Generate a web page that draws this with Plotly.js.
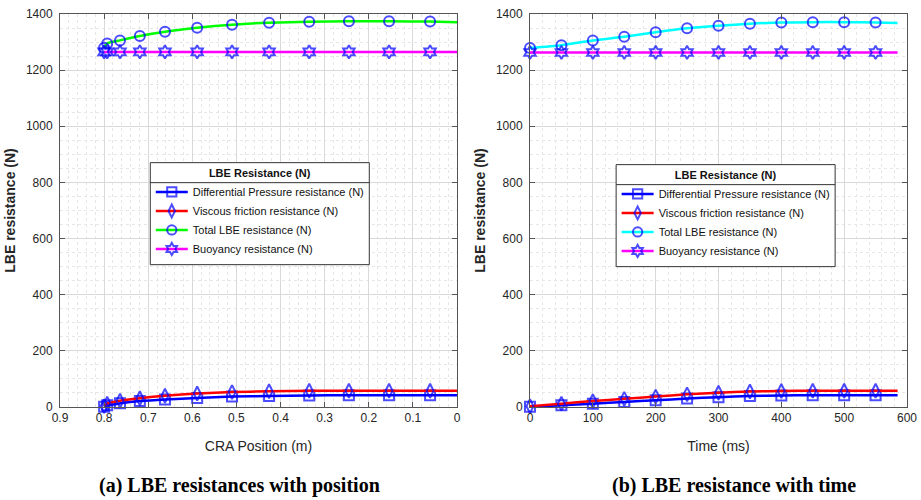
<!DOCTYPE html>
<html>
<head>
<meta charset="utf-8">
<script src="https://cdn.plot.ly/plotly-3.0.1.min.js"></script>
<style>html,body{margin:0;padding:0;background:#fff;}#chart{width:921px;height:500px;}</style>
</head>
<body>
<div id="chart"></div>
<script>
// ---- Data (a): resistance vs CRA position ----
var positionA = [0.800, 0.793, 0.764, 0.719, 0.662, 0.589, 0.510, 0.426, 0.335, 0.245, 0.154, 0.061, 0.0];
var pressureA = [1, 6, 13, 21, 27, 32, 37, 39, 41, 42, 42, 42, 42];
var viscousA  = [3, 12, 22, 31, 40, 48, 53, 56, 58, 58, 58, 58, 58];
var totalA    = [1280, 1295, 1306, 1322, 1337, 1351, 1362, 1369, 1372, 1374, 1374, 1373, 1371];
var buoyancyA = [1265, 1265, 1265, 1265, 1265, 1265, 1265, 1265, 1265, 1265, 1265, 1265, 1265];

// ---- Data (b): resistance vs time ----
var timeB     = [0, 50, 100, 150, 200, 250, 300, 350, 400, 450, 500, 550, 585];
var pressureB = [1, 6, 12, 18, 24, 30, 35, 39, 41, 42, 42, 42, 42];
var viscousB  = [3, 12, 21, 29, 37, 45, 51, 55, 57, 58, 58, 58, 58];
var totalB    = [1279, 1289, 1306, 1319, 1335, 1349, 1358, 1365, 1370, 1371, 1371, 1370, 1368];
var buoyancyB = [1263, 1263, 1263, 1263, 1263, 1263, 1263, 1263, 1263, 1263, 1263, 1263, 1263];

var seriesNames = ['Differential Pressure resistance (N)', 'Viscous friction resistance (N)', 'Total LBE resistance (N)', 'Buoyancy resistance (N)'];
var legendTitle = 'LBE Resistance (N)';
var yTickVals = [0, 200, 400, 600, 800, 1000, 1200, 1400];
var xTickValsA = [0.9, 0.8, 0.7, 0.6, 0.5, 0.4, 0.3, 0.2, 0.1, 0];
var xTickTextA = ['0.9', '0.8', '0.7', '0.6', '0.5', '0.4', '0.3', '0.2', '0.1', '0'];
var xTickValsB = [0, 100, 200, 300, 400, 500, 600];

var markerSymbols = ['square-open', 'diamond-tall-open', 'circle-open', 'hexagram-open'];
var colorsA = ['#0000ff', '#ff0000', '#00ff00', '#ff00ff'];
var colorsB = ['#0000ff', '#ff0000', '#00ffff', '#ff00ff'];

function sizes(n) { var s = []; for (var i = 0; i < n; i++) s.push(i === n - 1 ? 0 : 10); return s; }

function mk(x, y, i, colors, xa, ya, leg) {
  return {
    x: x, y: y, type: 'scatter', mode: 'lines+markers', name: seriesNames[i],
    xaxis: xa, yaxis: ya, legend: leg,
    line: {color: colors[i], width: 2.5, shape: 'spline', smoothing: 0.6},
    marker: {symbol: markerSymbols[i], color: '#0000ff', size: sizes(x.length), line: {color: '#0000ff', width: 2}},
    cliponaxis: false
  };
}

var data = [
  mk(positionA, pressureA, 0, colorsA, 'x', 'y', 'legend'),
  mk(positionA, viscousA, 1, colorsA, 'x', 'y', 'legend'),
  mk(positionA, totalA, 2, colorsA, 'x', 'y', 'legend'),
  mk(positionA, buoyancyA, 3, colorsA, 'x', 'y', 'legend'),
  mk(timeB, pressureB, 0, colorsB, 'x2', 'y2', 'legend2'),
  mk(timeB, viscousB, 1, colorsB, 'x2', 'y2', 'legend2'),
  mk(timeB, totalB, 2, colorsB, 'x2', 'y2', 'legend2'),
  mk(timeB, buoyancyB, 3, colorsB, 'x2', 'y2', 'legend2')
];

var FF = 'Liberation Sans, Arial, sans-serif';
var axisFont = {family: FF, size: 12, color: '#262626'};
var titleFont = {family: FF, size: 14, color: '#262626'};
var gridColor = '#d9d9d9';
var minorGrid = '#e6e6e6';

function ax(extra) {
  var base = {
    showline: true, linecolor: '#555', linewidth: 1, mirror: 'ticks',
    ticks: 'inside', ticklen: 5, tickcolor: '#555',
    showgrid: true, gridcolor: gridColor, gridwidth: 1,
    zeroline: false, tickfont: axisFont
  };
  for (var k in extra) base[k] = extra[k];
  return base;
}

function legendCfg(x, y) {
  return {
    x: x, y: y, xanchor: 'left', yanchor: 'top',
    bgcolor: 'rgba(0,0,0,0)', bordercolor: 'rgba(0,0,0,0)', borderwidth: 1,
    font: {family: FF, size: 11, color: '#111'},
    title: {text: '<b>' + legendTitle + '</b>', side: 'top center', font: {family: FF, size: 11, color: '#111'}},
    tracegroupgap: 0, itemwidth: 32
  };
}

var layout = {
  width: 921, height: 500,
  paper_bgcolor: '#fff', plot_bgcolor: '#fff',
  margin: {l: 60, r: 14, t: 14, b: 93},
  showlegend: true,
  xaxis: ax({
    domain: [0, 0.4687], range: [0.9, 0], tickvals: xTickValsA, ticktext: xTickTextA,
    minor: {dtick: 0.02, showgrid: true, gridcolor: minorGrid, griddash: 'dot', ticks: ''},
    title: {text: 'CRA Position (m)', font: titleFont, standoff: 16},
    anchor: 'y'
  }),
  yaxis: ax({
    domain: [0, 1], range: [0, 1400], tickvals: yTickVals, ticklabelstandoff: 4,
    minor: {dtick: 50, showgrid: true, gridcolor: minorGrid, griddash: 'dot', ticks: ''},
    title: {text: '<b>LBE resistance (N)</b>', font: titleFont, standoff: 6},
    anchor: 'x'
  }),
  xaxis2: ax({
    domain: [0.5549, 1], range: [0, 600], tickvals: xTickValsB,
    minor: {dtick: 20, showgrid: true, gridcolor: minorGrid, griddash: 'dot', ticks: ''},
    title: {text: 'Time (ms)', font: titleFont, standoff: 16},
    anchor: 'y2'
  }),
  yaxis2: ax({
    domain: [0, 1], range: [0, 1400], tickvals: yTickVals, ticklabelstandoff: 4,
    minor: {dtick: 50, showgrid: true, gridcolor: minorGrid, griddash: 'dot', ticks: ''},
    title: {text: '<b>LBE resistance (N)</b>', font: titleFont, standoff: 6},
    anchor: 'x2'
  }),
  legend: legendCfg(0.106, 0.623),
  legend2: legendCfg(0.656, 0.618),
  shapes: [],
  annotations: [
    {text: '<b>(a) LBE resistances with position</b>', xref: 'paper', yref: 'paper', x: 0.2125, y: -0.201,
     xanchor: 'center', yanchor: 'middle', showarrow: false,
     font: {family: 'Liberation Serif, Times New Roman, serif', size: 20, color: '#000'}},
    {text: '<b>(b) LBE resistance with time</b>', xref: 'paper', yref: 'paper', x: 0.796, y: -0.201,
     xanchor: 'center', yanchor: 'middle', showarrow: false,
     font: {family: 'Liberation Serif, Times New Roman, serif', size: 20, color: '#000'}}
  ]
};

Plotly.newPlot('chart', data, layout, {displayModeBar: false, staticPlot: true}).then(function (gd) {
  // draw legend frames (white box + border + title separator) behind the rendered legends
  var fl = gd._fullLayout;
  var W = fl._size.w, H = fl._size.h, L = fl._size.l, T = fl._size.t;
  var cr = document.getElementById('chart').getBoundingClientRect();
  var boxes = document.querySelectorAll('g.legend > rect.bg, g.legend2 > rect.bg');
  var shapes = [];
  for (var i = 0; i < boxes.length; i++) {
    var r = boxes[i].getBoundingClientRect();
    var x0 = (r.left - cr.left - L) / W, x1 = (r.right - cr.left - L) / W;
    var y0 = 1 - (r.bottom - cr.top - T) / H, y1 = 1 - (r.top - cr.top - T) / H;
    var ySep = 1 - (r.top - cr.top + 20 - T) / H;
    shapes.push({type: 'rect', layer: 'above', xref: 'paper', yref: 'paper', x0: x0, x1: x1, y0: y0, y1: y1,
                 fillcolor: '#fff', line: {color: '#333', width: 1}});
    shapes.push({type: 'line', layer: 'above', xref: 'paper', yref: 'paper', x0: x0, x1: x1, y0: ySep, y1: ySep,
                 line: {color: '#333', width: 1}});
  }
  Plotly.relayout(gd, {shapes: shapes});
});
</script>
</body>
</html>
